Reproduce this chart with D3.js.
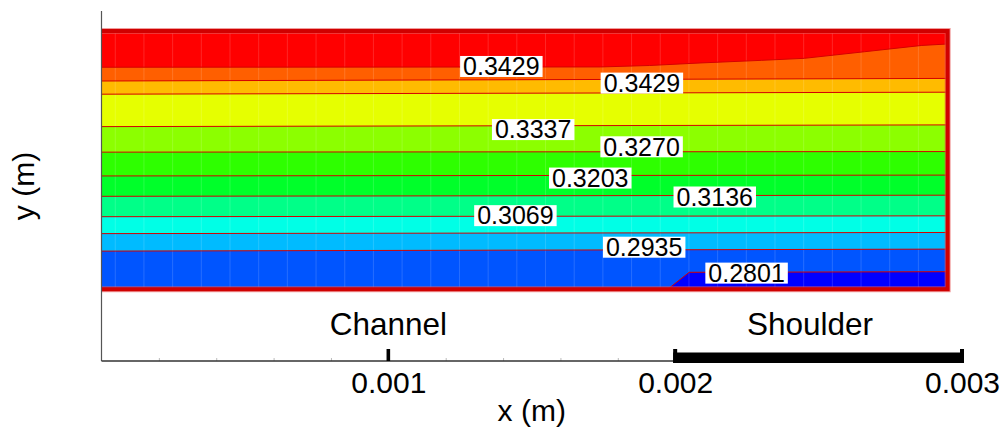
<!DOCTYPE html>
<html>
<head>
<meta charset="utf-8">
<script src="https://cdn.jsdelivr.net/npm/d3@7"></script>
<style>
  html, body { margin: 0; padding: 0; background: #fff; }
  svg { display: block; font-family: "Liberation Sans", Arial, sans-serif; }
</style>
</head>
<body>
<svg id="chart" width="1005" height="427"></svg>
<script>
// ---- data (metres) ----
const domainX = [0, 0.00295];
const domainY = [0, 0.0009];

// contour levels of the iso-lines, listed from the top of the section downwards
const levels = [0.3429, 0.3429, 0.3404, 0.3337, 0.3270, 0.3203, 0.3136, 0.3069, 0.3002, 0.2935, 0.2801];

// iso-line geometry [x, y] for each level above
const isoLines = [
  [[0, 0.000774], [0.00174, 0.000775], [0.00191, 0.000780], [0.00209, 0.000789],
   [0.00230, 0.000798], [0.00245, 0.000805], [0.00266, 0.000828], [0.00286, 0.000850], [0.00295, 0.000855]],
  [[0, 0.000726], [0.00295, 0.000735]],
  [[0, 0.000680], [0.00295, 0.000687]],
  [[0, 0.000567], [0.00295, 0.000573]],
  [[0, 0.000478], [0.00295, 0.000480]],
  [[0, 0.000395], [0.00295, 0.000398]],
  [[0, 0.000324], [0.00295, 0.000328]],
  [[0, 0.000253], [0.00295, 0.000256]],
  [[0, 0.000194], [0.00295, 0.000198]],
  [[0, 0.000133], [0.00295, 0.000140]],
  [[0.001974, 0], [0.002049, 0.0000592], [0.00295, 0.0000613]]
];

// inline level labels: which iso-line, and where its box is centred
const labelLine = [0, 1, 3, 4, 5, 6, 7, 9, 10];
const labelX = [0.001394, 0.001884, 0.001505, 0.001883, 0.001704, 0.002138, 0.001443, 0.001892, 0.002249];
const labelY = [0.000777, 0.000719, 0.000557, 0.000497, 0.000388, 0.000322, 0.000257, 0.000147, 0.0000567];

// x axis
const xTicks = [0.001, 0.002, 0.003];
const xMinorTicks = [0.0002, 0.0004, 0.0006, 0.0008, 0.0012, 0.0014, 0.0016, 0.0018];
const regions = ["Channel", "Shoulder"];
const regionStart = [0.001, 0.002];
const regionEnd = [0.001, 0.003];
const regionLabelX = [0.001, 0.00247];

// ---- styles ----
// band colours, top band first (jet-like ramp)
const bandColors = ["#ff0000", "#ff5f00", "#ffbb00", "#e6ff00", "#8cff00", "#2eff00",
                    "#00ff2a", "#00ff88", "#00ffe6", "#00bbff", "#0055ff", "#0000ff"];
const lineColor = "#d40000";

const svg = d3.select("#chart");
const xs = d3.scaleLinear().domain([0, 0.003]).range([101.5, 962]);
const ys = d3.scaleLinear().domain([-0.00025, 0.00097]).range([361, 11]);

const x0 = xs(domainX[0]), x1 = xs(domainX[1]);
const yTop = ys(domainY[1]), yBot = ys(domainY[0]);

svg.append("defs").append("clipPath").attr("id", "dom")
  .append("rect").attr("x", x0).attr("y", yTop).attr("width", x1 - x0).attr("height", yBot - yTop);

const field = svg.append("g").attr("clip-path", "url(#dom)");

// top band fills the whole section, each lower band is painted under its iso-line
field.append("rect").attr("x", x0).attr("y", yTop).attr("width", x1 - x0).attr("height", yBot - yTop)
  .attr("fill", bandColors[0]);

const below = d3.area().x(d => xs(d[0])).y0(yBot + 2).y1(d => ys(d[1]));
isoLines.forEach((pts, i) => {
  field.append("path").attr("d", below(pts)).attr("fill", bandColors[i + 1]);
});

// faint finite-element mesh
const meshX = d3.range(0.000048, domainX[1], 0.0001);
field.selectAll("line.mesh").data(meshX).join("line")
  .attr("class", "mesh")
  .attr("x1", d => xs(d)).attr("x2", d => xs(d))
  .attr("y1", yTop).attr("y2", yBot)
  .attr("stroke", "#ffffff").attr("stroke-opacity", 0.15).attr("stroke-width", 1);

// iso-lines
const lineGen = d3.line().x(d => xs(d[0])).y(d => ys(d[1]));
field.selectAll("path.iso").data(isoLines).join("path")
  .attr("class", "iso")
  .attr("d", lineGen)
  .attr("fill", "none").attr("stroke", lineColor).attr("stroke-width", 1);

// section outline: top, right and bottom edges
const outline = `M${x0},${yTop}H${x1}V${yBot}H${x0}`;
svg.append("path").attr("d", outline)
  .attr("fill", "none").attr("stroke", "#e85a5a").attr("stroke-opacity", 0.6).attr("stroke-width", 6);
svg.append("path").attr("d", outline)
  .attr("fill", "none").attr("stroke", "#d00000").attr("stroke-width", 4);

// level labels
const labels = svg.append("g").attr("font-size", 25);
labelLine.forEach((li, i) => {
  const cx = xs(labelX[i]), cy = ys(labelY[i]);
  const g = labels.append("g");
  const box = g.append("rect").attr("fill", "#fff");
  const t = g.append("text").attr("x", cx).attr("y", cy + 8.9)
    .attr("text-anchor", "middle").attr("fill", "#000")
    .text(d3.format(".4f")(levels[li]));
  const w = t.node().getComputedTextLength() + 6;
  box.attr("x", cx - w / 2).attr("y", cy - 10.4).attr("width", w).attr("height", 21);
});

// axes
svg.append("line").attr("x1", xs(0)).attr("x2", xs(0)).attr("y1", ys(0.00097)).attr("y2", ys(-0.00025))
  .attr("stroke", "#555").attr("stroke-width", 1.2);

const minorAxis = svg.append("g").attr("transform", `translate(0,${ys(-0.00025)})`)
  .call(d3.axisBottom(xs).tickValues(xMinorTicks).tickSizeInner(-3).tickSizeOuter(0).tickFormat(""));
minorAxis.select(".domain").remove();
minorAxis.selectAll(".tick line").attr("stroke", "#bbb");

const xAxis = svg.append("g").attr("transform", `translate(0,${ys(-0.00025)})`)
  .call(d3.axisBottom(xs).tickValues(xTicks).tickSize(0).tickPadding(11).tickFormat(d3.format(".3f")));
xAxis.select(".domain").attr("stroke", "#333").attr("stroke-width", 1.5)
  .attr("d", `M${xs(0)},0H${xs(0.003) + 2}`);
xAxis.selectAll(".tick text").attr("font-size", 30).attr("font-family", "Liberation Sans, Arial, sans-serif").attr("fill", "#000");

// region markers under the section
const axisY = ys(-0.00025);
regions.forEach((name, i) => {
  if (regionStart[i] === regionEnd[i]) {
    svg.append("rect").attr("x", xs(regionStart[i]) - 1.8).attr("y", axisY - 12)
      .attr("width", 3.6).attr("height", 12).attr("fill", "#000");
  } else {
    svg.append("rect").attr("x", xs(regionStart[i]) - 2).attr("y", axisY - 8.5)
      .attr("width", xs(regionEnd[i]) - xs(regionStart[i]) + 4).attr("height", 10.5).attr("fill", "#000");
    [regionStart[i], regionEnd[i]].forEach(v => {
      svg.append("rect").attr("x", xs(v) - 2).attr("y", axisY - 12)
        .attr("width", 4).attr("height", 14).attr("fill", "#000");
    });
  }
  svg.append("text").attr("x", xs(regionLabelX[i])).attr("y", 335)
    .attr("text-anchor", "middle").attr("font-size", 31.5).attr("fill", "#000").text(name);
});

// axis titles
svg.append("text").attr("x", (xs(0) + xs(0.003)) / 2).attr("y", 421)
  .attr("text-anchor", "middle").attr("font-size", 30).attr("fill", "#000").text("x (m)");
svg.append("text").attr("transform", `translate(34,${186}) rotate(-90)`)
  .attr("text-anchor", "middle").attr("font-size", 30).attr("fill", "#000").text("y (m)");
</script>
</body>
</html>
